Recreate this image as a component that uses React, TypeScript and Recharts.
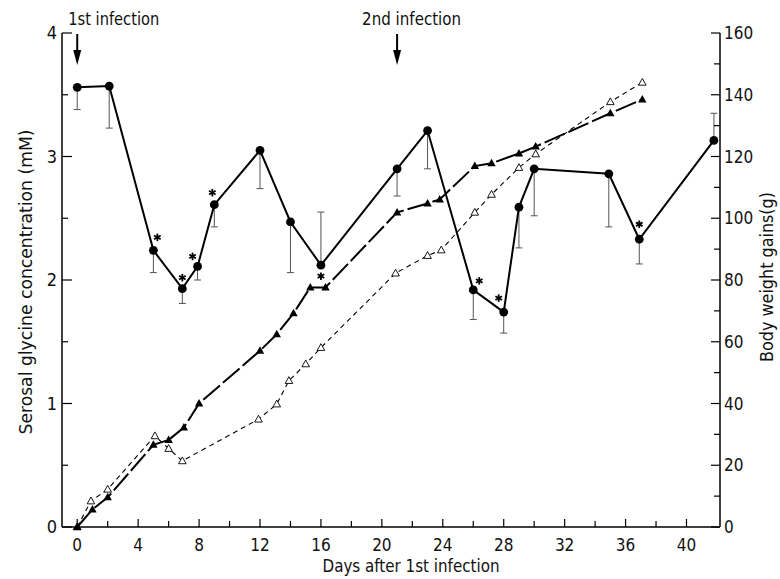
import React from "react";
import {
  ComposedChart,
  Line,
  XAxis,
  YAxis,
  ErrorBar,
  ReferenceDot,
  Label,
} from "recharts";

const FONT =
  '"Liberation Sans Narrow", "DejaVu Sans Condensed", "Arial Narrow", "Liberation Sans", sans-serif';

// serosal glycine (mM) — mean, one-sided SE
const glyDays = [0, 2.1, 5, 6.9, 7.9, 9, 12, 14, 16, 21, 23, 26, 28, 29, 30, 34.9, 36.9, 41.8];
const glyMM = [3.56, 3.57, 2.24, 1.93, 2.11, 2.61, 3.05, 2.47, 2.12, 2.9, 3.21, 1.92, 1.74, 2.59, 2.9, 2.86, 2.33, 3.13];
const glyErrDown = [0.18, 0.34, 0.18, 0.12, 0.11, 0.18, 0.31, 0.41, 0, 0.22, 0.31, 0.24, 0.17, 0.33, 0.38, 0.43, 0.2, 0];
const glyErrUp = [0, 0, 0, 0, 0, 0, 0, 0, 0.43, 0, 0, 0, 0, 0, 0, 0, 0, 0.22];
const glySig = [0, 0, 1, 1, 1, 1, 0, 0, 1, 0, 0, 1, 1, 0, 0, 0, 1, 0];

// body weight gain (g), filled triangles
const wtADays = [0, 1, 2, 5, 6, 7, 8, 12, 13.1, 14.2, 15.3, 16.3, 21, 23, 23.8, 26.1, 27.2, 29, 30.1, 35, 37.1];
const wtAG = [0, 5.7, 9.6, 26.6, 28.2, 32.2, 40, 57.1, 62.4, 69.2, 77.6, 77.6, 101.9, 104.8, 106.1, 116.9, 117.8, 121, 123.2, 134, 138.5];

// body weight gain (g), open triangles
const wtBDays = [0, 0.9, 2, 5.1, 6, 6.9, 11.9, 13.1, 13.9, 15, 16, 20.9, 23, 23.9, 26.1, 27.2, 29, 30.1, 35, 37.1];
const wtBG = [0, 8.4, 12.2, 29.5, 25.4, 21.4, 34.9, 39.8, 47.4, 52.8, 58.1, 82.2, 87.9, 89.7, 101.9, 107.7, 116.4, 120.8, 137.7, 144];

const infectionDays = [0, 21];
const infectionLabels = ["1st infection", "2nd infection"];

const dayTicks = [0, 2, 4, 6, 8, 10, 12, 14, 16, 18, 20, 22, 24, 26, 28, 30, 32, 34, 36, 38, 40];
const mmTicks = [0, 0.5, 1, 1.5, 2, 2.5, 3, 3.5, 4];
const gTicks = [0, 10, 20, 30, 40, 50, 60, 70, 80, 90, 100, 110, 120, 130, 140, 150, 160];

// where each asterisk sits relative to its point (px)
const starOffset: Record<number, [number, number]> = {
  2: [4, -13],
  3: [0, -11],
  4: [-5, -10],
  5: [-2, -12],
  8: [0, 11],
  11: [6, -9],
  12: [-5, -14],
  16: [0, -15],
};
const labelDx = [-9, -35];
const labelLen = [91, 99];

const glyData = glyDays.map((d, i) => ({
  day: d,
  mM: glyMM[i],
  err: [glyErrDown[i], glyErrUp[i]],
  sig: glySig[i],
}));
const wtAData = wtADays.map((d, i) => ({ day: d, g: wtAG[i] }));
const wtBData = wtBDays.map((d, i) => ({ day: d, g: wtBG[i] }));

function Asterisk({ x, y }: { x: number; y: number }) {
  const r = 3.8;
  return (
    <g stroke="#000" strokeWidth={1.8}>
      <line x1={x} y1={y - r} x2={x} y2={y + r} />
      <line x1={x - r * 0.87} y1={y - r / 2} x2={x + r * 0.87} y2={y + r / 2} />
      <line x1={x - r * 0.87} y1={y + r / 2} x2={x + r * 0.87} y2={y - r / 2} />
    </g>
  );
}

function GlyDot(props: any) {
  const { cx, cy, index, payload } = props;
  if (cx == null || cy == null) return <g key={`gd${index}`} />;
  const off = starOffset[index];
  return (
    <g key={`gd${index}`}>
      <circle cx={cx} cy={cy} r={4.4} fill="#000" />
      {payload.sig && off ? <Asterisk x={cx + off[0]} y={cy + off[1]} /> : null}
    </g>
  );
}

function FilledTri(props: any) {
  const { cx, cy, index } = props;
  if (cx == null || cy == null) return <g key={`ft${index}`} />;
  return (
    <path
      key={`ft${index}`}
      d={`M${cx},${cy - 4.5} L${cx + 4.2},${cy + 3} L${cx - 4.2},${cy + 3} Z`}
      fill="#000"
    />
  );
}

function OpenTri(props: any) {
  const { cx, cy, index } = props;
  if (cx == null || cy == null) return <g key={`ot${index}`} />;
  return (
    <path
      key={`ot${index}`}
      d={`M${cx},${cy - 4} L${cx + 3.8},${cy + 2.8} L${cx - 3.8},${cy + 2.8} Z`}
      fill="#fff"
      stroke="#000"
      strokeWidth={0.9}
    />
  );
}

function DayTick({ x, y, payload }: any) {
  const major = payload.value % 4 === 0;
  return (
    <g>
      <line x1={x} y1={y} x2={x} y2={y - (major ? 8 : 6)} stroke="#000" strokeWidth={1.2} />
      {major && (
        <text x={x} y={y + 24} textAnchor="middle" fontFamily={FONT} fontSize={17} fill="#111">
          {payload.value}
        </text>
      )}
    </g>
  );
}

function MMTick({ x, y, payload }: any) {
  const major = payload.value % 1 === 0;
  return (
    <g>
      <line x1={x} y1={y} x2={x + (major ? 10 : 6)} y2={y} stroke="#000" strokeWidth={1.2} />
      {major && (
        <text x={x - 5} y={y} dy="0.36em" textAnchor="end" fontFamily={FONT} fontSize={18} fill="#111">
          {payload.value}
        </text>
      )}
    </g>
  );
}

function GTick({ x, y, payload }: any) {
  const major = payload.value % 20 === 0;
  return (
    <g>
      <line x1={x} y1={y} x2={x - (major ? 9 : 6)} y2={y} stroke="#000" strokeWidth={1.2} />
      {major && (
        <text x={x + 4} y={y} dy="0.36em" textAnchor="start" fontFamily={FONT} fontSize={17} fill="#111">
          {payload.value}
        </text>
      )}
    </g>
  );
}

function InfectionMark({ cx, cy, text, dx, len }: any) {
  return (
    <g>
      <text
        x={cx + dx}
        y={cy - 8}
        fontFamily={FONT}
        fontSize={17}
        fill="#111"
        textLength={len}
        lengthAdjust="spacingAndGlyphs"
      >
        {text}
      </text>
      <line x1={cx} y1={cy + 1} x2={cx} y2={cy + 20} stroke="#000" strokeWidth={2} />
      <path d={`M${cx - 4},${cy + 17} L${cx + 4},${cy + 17} L${cx},${cy + 32} Z`} fill="#000" />
    </g>
  );
}

export default function App() {
  return (
    <div style={{ width: 780, height: 579, background: "#fff" }}>
      <style>{"body{margin:0;background:#fff}"}</style>
      <ComposedChart width={780} height={579} margin={{ top: 33, right: 0, bottom: 0, left: 0 }}>
        <XAxis
          type="number"
          dataKey="day"
          domain={[-1, 42.2]}
          ticks={dayTicks}
          allowDataOverflow
          height={52}
          tickSize={0}
          tickMargin={0}
          tickLine={false}
          axisLine={{ stroke: "#000", strokeWidth: 1.5 }}
          tick={<DayTick />}
          interval={0}
        >
          <Label
            content={({ viewBox }: any) => (
              <text
                x={viewBox.x + viewBox.width / 2 + 20}
                y={viewBox.y + 45}
                textAnchor="middle"
                fontFamily={FONT}
                fontSize={17}
                fill="#111"
                textLength={177}
                lengthAdjust="spacingAndGlyphs"
              >
                Days after 1st infection
              </text>
            )}
          />
        </XAxis>
        <YAxis
          yAxisId="mm"
          orientation="left"
          domain={[0, 4]}
          ticks={mmTicks}
          width={62}
          tickSize={0}
          tickMargin={0}
          tickLine={false}
          axisLine={{ stroke: "#000", strokeWidth: 1.5 }}
          tick={<MMTick />}
          interval={0}
        >
          <Label
            content={({ viewBox }: any) => {
              const cx = 26;
              const cy = viewBox.y + viewBox.height / 2 + 2;
              return (
                <text
                  x={cx}
                  y={cy}
                  transform={`rotate(-90 ${cx} ${cy})`}
                  textAnchor="middle"
                  dy="0.35em"
                  fontFamily={FONT}
                  fontSize={18}
                  fill="#111"
                  textLength={305}
                  lengthAdjust="spacingAndGlyphs"
                >
                  Serosal glycine concentration (mM)
                </text>
              );
            }}
          />
        </YAxis>
        <YAxis
          yAxisId="g"
          orientation="right"
          domain={[0, 160]}
          ticks={gTicks}
          width={60}
          tickSize={0}
          tickMargin={0}
          tickLine={false}
          axisLine={{ stroke: "#000", strokeWidth: 1.5 }}
          tick={<GTick />}
          interval={0}
        >
          <Label
            content={({ viewBox }: any) => {
              const cx = viewBox.x + 47;
              const cy = viewBox.y + viewBox.height / 2 - 3;
              return (
                <text
                  x={cx}
                  y={cy}
                  transform={`rotate(-90 ${cx} ${cy})`}
                  textAnchor="middle"
                  dy="0.35em"
                  fontFamily={FONT}
                  fontSize={17}
                  fill="#111"
                  textLength={170}
                  lengthAdjust="spacingAndGlyphs"
                >
                  Body weight gains(g)
                </text>
              );
            }}
          />
        </YAxis>

        <Line
          yAxisId="g"
          data={wtBData}
          dataKey="g"
          stroke="#000"
          strokeWidth={1.1}
          strokeDasharray="5 4"
          dot={OpenTri}
          activeDot={false}
          isAnimationActive={false}
        />
        <Line
          yAxisId="g"
          data={wtAData}
          dataKey="g"
          stroke="#000"
          strokeWidth={2}
          strokeDasharray="22 4"
          dot={FilledTri}
          activeDot={false}
          isAnimationActive={false}
        />
        <Line
          yAxisId="mm"
          data={glyData}
          dataKey="mM"
          stroke="#000"
          strokeWidth={2}
          dot={GlyDot}
          activeDot={false}
          isAnimationActive={false}
        >
          <ErrorBar dataKey="err" direction="y" width={3.5} stroke="#555" strokeWidth={1} />
        </Line>

        {infectionDays.map((d, i) => (
          <ReferenceDot
            key={d}
            yAxisId="mm"
            x={d}
            y={4}
            shape={(p: any) => (
              <InfectionMark
                cx={p.cx}
                cy={p.cy}
                text={infectionLabels[i]}
                dx={labelDx[i]}
                len={labelLen[i]}
              />
            )}
          />
        ))}
      </ComposedChart>
    </div>
  );
}
